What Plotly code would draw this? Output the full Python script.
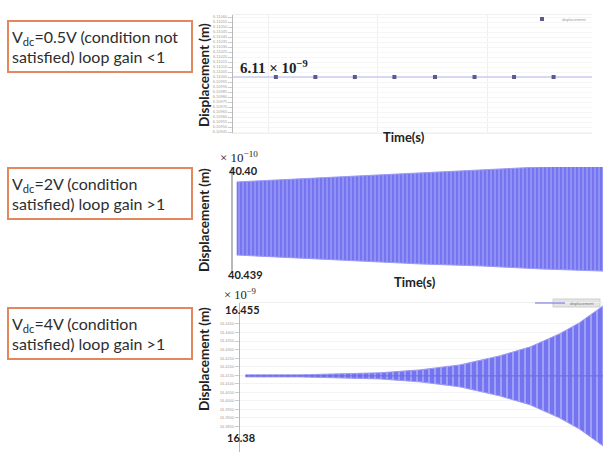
import plotly.graph_objects as go

W, H = 603, 452
def px(x): return x / W
def py(y): return 1 - y / H

# ---------------- data ----------------
# Panel 1: Vdc = 0.5 V (flat response, values in units of 1e-9 m)
t1_line = [-0.32, 2.95]
y1_line = [6.11, 6.11]
t1_markers = [0.07, 0.43, 0.79, 1.15, 1.52, 1.88, 2.24, 2.60]
y1_markers = [6.11, 6.11, 6.11, 6.11, 6.11, 6.11, 6.11, 6.11]

# Panel 2: Vdc = 2 V (slowly growing oscillation envelope, units of 1e-10 m)
t2 = [0.1, 1.8, 3.4, 5.1, 6.7, 8.3, 10.0]
y2_upper = [40.4055, 40.4044, 40.4033, 40.4022, 40.4011, 40.4000, 40.3993]
y2_lower = [40.4324, 40.4335, 40.4346, 40.4357, 40.4364, 40.4375, 40.4383]

# Panel 3: Vdc = 4 V (exponentially growing oscillation envelope, units of 1e-9 m)
t3 = [0.15, 1.65, 2.75, 3.85, 4.95, 6.05, 7.15, 8.0, 8.8, 9.35, 10.0]
y3_upper = [16.4152, 16.4152, 16.4158, 16.4164, 16.4181, 16.4210, 16.4263, 16.4316, 16.4392, 16.4457, 16.4556]
y3_lower = [16.4140, 16.4140, 16.4134, 16.4128, 16.4111, 16.4082, 16.4029, 16.3976, 16.3900, 16.3835, 16.3736]
y3_center = 16.4146
y3_ticks = [16.385, 16.39, 16.395, 16.40, 16.405, 16.41, 16.415,
            16.42, 16.425, 16.43, 16.435, 16.44, 16.445]

labels = [
    "V<sub>dc</sub>=0.5V (condition not<br>satisfied) loop gain <1",
    "V<sub>dc</sub>=2V (condition<br>satisfied) loop gain >1",
    "V<sub>dc</sub>=4V (condition<br>satisfied) loop gain >1",
]

# ---------------- figure ----------------
fig = go.Figure()

BAND = "#7575f2"
STRIPE = "#a4a4f7"

# panel 1
fig.add_trace(go.Scatter(x=t1_line, y=y1_line, mode="lines",
                         line=dict(color="#b4b4ec", width=1.2),
                         xaxis="x", yaxis="y", showlegend=False))
fig.add_trace(go.Scatter(x=t1_markers, y=y1_markers, mode="markers",
                         marker=dict(symbol="square", size=4, color="#5a5a90"),
                         xaxis="x", yaxis="y", name="displacement",
                         legend="legend", showlegend=True))

# panel 2
fig.add_trace(go.Scatter(x=t2 + t2[::-1], y=y2_upper + y2_lower[::-1],
                         mode="lines", fill="toself",
                         line=dict(color="#9a9af4", width=1),
                         fillcolor=BAND,
                         fillpattern=dict(shape="|", size=4, solidity=0.3,
                                          bgcolor=BAND, fgcolor=STRIPE, fgopacity=1),
                         xaxis="x2", yaxis="y2", showlegend=False))

# panel 3
fig.add_trace(go.Scatter(x=t3 + t3[::-1], y=y3_upper + y3_lower[::-1],
                         mode="lines", fill="toself",
                         line=dict(color="#9a9af4", width=1),
                         fillcolor=BAND,
                         fillpattern=dict(shape="|", size=6, solidity=0.3,
                                          bgcolor=BAND, fgcolor=STRIPE, fgopacity=1),
                         xaxis="x3", yaxis="y3", showlegend=False))
fig.add_trace(go.Scatter(x=[t3[0], t3[-1]], y=[y3_center, y3_center], mode="lines",
                         line=dict(color="#6a6ae0", width=1),
                         xaxis="x3", yaxis="y3", name="displacement",
                         legend="legend2", showlegend=True))

GRID = "#efefef"
AX = "#b8b8b8"
tiny = dict(family="Liberation Sans", size=4, color="#a0a0a0")

fig.update_layout(
    width=W, height=H,
    margin=dict(l=0, r=0, t=0, b=0, autoexpand=False),
    paper_bgcolor="white", plot_bgcolor="white",
    # panel 1
    xaxis=dict(domain=[px(233), px(592)], range=[-0.32, 2.95], anchor="y",
               tickvals=[0, 1, 2], showticklabels=False, ticks="",
               showgrid=True, gridcolor=GRID, zeroline=False,
               showline=True, linecolor="#f0f0f0", mirror=True),
    yaxis=dict(domain=[py(133), py(15)], range=[6.10944, 6.11062], anchor="x",
               dtick=0.00005, tickformat=".5f", tickfont=tiny,
               ticks="outside", ticklen=4, tickcolor="#cccccc",
               showgrid=True, gridcolor="#f6f6f6", zeroline=False,
               showline=True, linecolor=AX, linewidth=1),
    # panel 2
    xaxis2=dict(domain=[px(233), 1.0], range=[0, 10], anchor="y2",
                showticklabels=False, ticks="", showgrid=False, zeroline=False),
    yaxis2=dict(domain=[py(273), py(167)], range=[40.439, 40.40], anchor="x2",
                showticklabels=False, ticks="", showgrid=False, zeroline=False,
                showline=True, linecolor=AX, linewidth=1.5),
    # panel 3
    xaxis3=dict(domain=[px(240), 1.0], range=[0, 10], anchor="y3",
                showticklabels=False, ticks="", showgrid=False, zeroline=False,
                showline=True, linecolor="#eeeeee", mirror=True),
    yaxis3=dict(domain=[0, py(303)], range=[16.3700, 16.4573], anchor="x3",
                tickvals=y3_ticks, tickformat=".4f", tickfont=tiny,
                ticks="outside", ticklen=4, tickcolor="#cccccc",
                showgrid=True, gridcolor="#f4f4f4", zeroline=False,
                showline=True, linecolor=AX, linewidth=1),
    legend=dict(x=px(592), y=py(19), xanchor="right", yanchor="middle",
                font=dict(family="Liberation Sans", size=4, color="#999999"),
                bgcolor="rgba(0,0,0,0)", borderwidth=0,
                itemwidth=30, tracegroupgap=0),
    legend2=dict(x=px(600), y=py(303), xanchor="right", yanchor="middle",
                 font=dict(family="Liberation Sans", size=4, color="#777777"),
                 bgcolor="rgba(0,0,0,0)", borderwidth=0,
                 itemwidth=30, tracegroupgap=0),
    shapes=[dict(type="rect", xref="paper", yref="paper",
                 x0=px(553), x1=px(600), y0=py(307), y1=py(299),
                 fillcolor="#e4e4e4", line=dict(color="#cfcfcf", width=1), layer="below")],
)

ann = []
# condition boxes
box_tops = [20, 167, 307]
for lab, top in zip(labels, box_tops):
    ann.append(dict(xref="paper", yref="paper", x=px(7), y=py(top),
                    xanchor="left", yanchor="top", text=lab, showarrow=False,
                    align="left", width=176, height=43,
                    font=dict(family="Lato", size=16, color="#2e2e2e"),
                    bordercolor="#e3875c", borderwidth=2, borderpad=3,
                    bgcolor="white"))

# axis titles
for yc in [75, 220, 359]:
    ann.append(dict(xref="paper", yref="paper", x=px(204), y=py(yc),
                    xanchor="center", yanchor="middle",
                    text="<b>Displacement (m)</b>", textangle=-90, showarrow=False,
                    font=dict(family="Lato", size=13.5, color="#222222")))
for xc, yc in [(404, 137), (415, 282)]:
    ann.append(dict(xref="paper", yref="paper", x=px(xc), y=py(yc),
                    xanchor="center", yanchor="middle",
                    text="<b>Time(s)</b>", showarrow=False,
                    font=dict(family="Lato", size=13, color="#222222")))

serif = "Liberation Serif"
small = [
    (238, 67, "<b>6.11 × 10<sup>−9</sup></b>", serif, 15),
    (218, 157, "× 10<sup>−10</sup>", serif, 13),
    (227, 170, "<b>40.40</b>", "Lato", 11),
    (226, 274, "<b>40.439</b>", "Lato", 11),
    (222, 294, "× 10<sup>−9</sup>", serif, 12.5),
    (223, 309, "<b>16.455</b>", "Lato", 11),
    (225, 437, "<b>16.38</b>", "Lato", 11),
]
for x, y, txt, fam, sz in small:
    ann.append(dict(xref="paper", yref="paper", x=px(x), y=py(y),
                    xanchor="left", yanchor="middle", text=txt, showarrow=False,
                    font=dict(family=fam, size=sz, color="#222222")))

fig.update_layout(annotations=ann)
fig.write_html("out.html", config={"displayModeBar": False},
               post_script="document.body.style.margin='0';document.documentElement.style.overflow='hidden';")
